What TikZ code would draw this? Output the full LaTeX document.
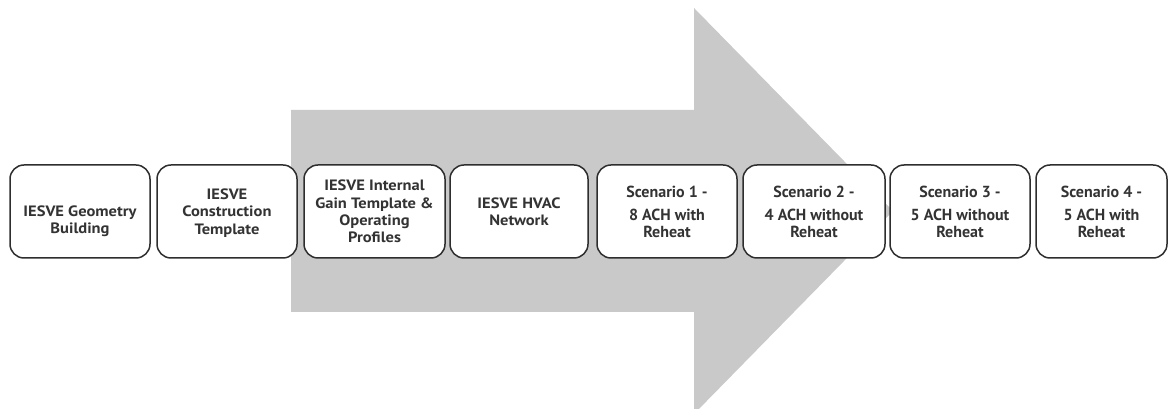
\documentclass[tikz,border=0pt]{standalone}
\usepackage{fontspec}
\setmainfont{PT Sans}
\newfontfamily\widefont{PT Sans}[FakeStretch=1.1]
\usepackage{tikz}
\usetikzlibrary{positioning}
\definecolor{arrowgrey}{HTML}{C9C9C9}
\definecolor{boxgrey}{HTML}{2E2E2E}
\definecolor{textgrey}{HTML}{333333}

\begin{document}
\begin{tikzpicture}[x=1pt,y=1pt]
  \tikzstyle{stepbox} = [draw=boxgrey, line width=1.5pt, rounded corners=14pt, fill=white, minimum height=93pt, inner sep=0pt];
  \tikzstyle{steptext} = [align=center, text=textgrey, inner sep=0pt, font=\widefont\fontsize{15}{17.4}\selectfont\bfseries];
  \tikzstyle{scentext} = [align=center, text=textgrey, inner sep=0pt, font=\fontsize{16}{16.7}\selectfont\bfseries];
  \useasboundingbox (0,0) rectangle (1169,409);
  % big background arrow
  \fill[arrowgrey] (291,299) -- (694,299) -- (694,401) -- (893,198)
    -- (694,-5) -- (694,97) -- (291,97) -- cycle;
  % IESVE steps (text of the third one is cut off at the bottom)
  \foreach \n/\x/\w/\dy/\c/\t in {
      geo/80/140/-10/0/{IESVE Geometry\\Building},
      con/227/140/-1.5/0/{IESVE\\Construction\\Template},
      gain/374.5/141/0/16.3/{IESVE Internal\\Gain Template \&\\Operating\\Profiles},
      hvac/519/138/0/0/{IESVE HVAC\\Network}}{
    \node[stepbox, minimum width=\w pt] (\n) at (\x,197.5) {};
    \begin{scope}
      \clip ([yshift=-1pt]\n.north west) rectangle ([yshift=\c pt]\n.south east);
      \node[steptext] (\n txt) at ([yshift=\dy pt]\n.center) {\t};
    \end{scope}
  }
  % scenarios
  \foreach \n/\x/\w/\t in {
      scA/667/140/{Scenario 1 -\\[6pt]8 ACH with\\Reheat},
      scB/814/142/{Scenario 2 -\\[6pt]4 ACH without\\Reheat},
      scC/960/140/{Scenario 3 -\\[6pt]5 ACH without\\Reheat},
      scD/1101.5/131/{Scenario 4 -\\[6pt]5 ACH with\\Reheat}}{
    \node[stepbox, minimum width=\w pt] (\n) at (\x,197.5) {};
    \node[scentext] (\n txt) at ([yshift=-0.5pt]\n.center) {\t};
  }
\end{tikzpicture}
\end{document}
